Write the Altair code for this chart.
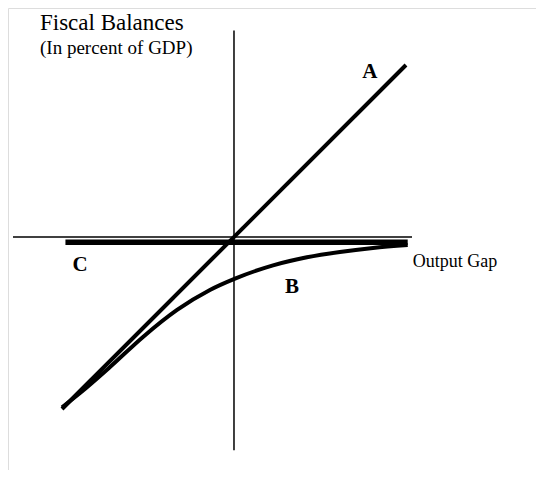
import altair as alt
import pandas as pd

# Stylised units: output gap (x) and fiscal balance (y)
a_x = [-1.0, 1.0]
a_y = [-1.0, 1.0]
b_x = [-1.0, -0.895, -0.721, -0.529, -0.331, -0.14, 0.006, 0.227, 0.424, 0.616, 0.808, 1.01]
b_y = [-0.99, -0.907, -0.756, -0.581, -0.424, -0.308, -0.242, -0.165, -0.118, -0.087, -0.064, -0.047]
c_x = [-0.98, 1.01]
c_y = [-0.03, -0.03]
h_axis_x = [-1.285, 1.035]
v_axis_y = [-1.24, 1.20]

curve_labels = ["A", "B", "C"]
curve_label_x = [0.79, 0.337, -0.895]
curve_label_y = [0.96, -0.29, -0.163]

title_text = ["Fiscal Balances", "(In percent of GDP)"]
title_x = [-1.128, -1.128]
title_y = [1.203, 1.064]
title_size = [23, 19]

xlab_text = ["Output Gap"]
xlab_x = [1.04]
xlab_y = [-0.145]

FONT = "Liberation Serif"

xs = alt.Scale(domain=[-1.314, 1.756], nice=False, zero=False)
ys = alt.Scale(domain=[-1.3547, 1.3314], nice=False, zero=False)

def X(field="x"):
    return alt.X(f"{field}:Q", scale=xs, axis=None)

def Y(field="y"):
    return alt.Y(f"{field}:Q", scale=ys, axis=None)

h_axis = pd.DataFrame({"x": [h_axis_x[0]], "x2": [h_axis_x[1]], "y": [0.0]})
v_axis = pd.DataFrame({"y": [v_axis_y[0]], "y2": [v_axis_y[1]], "x": [0.0]})

haxis = alt.Chart(h_axis).mark_rule(color="black", strokeWidth=1.5).encode(
    x=X(), x2="x2:Q", y=Y())
vaxis = alt.Chart(v_axis).mark_rule(color="black", strokeWidth=1.5).encode(
    y=Y(), y2="y2:Q", x=X())

df_a = pd.DataFrame({"x": a_x, "y": a_y, "o": range(len(a_x))})
df_b = pd.DataFrame({"x": b_x, "y": b_y, "o": range(len(b_x))})
df_c = pd.DataFrame({"x": c_x, "y": c_y, "o": range(len(c_x))})

line_a = alt.Chart(df_a).mark_line(color="black", strokeWidth=4, strokeCap="butt").encode(
    x=X(), y=Y(), order="o:Q")
line_b = alt.Chart(df_b).mark_line(color="black", strokeWidth=4, interpolate="monotone").encode(
    x=X(), y=Y(), order="o:Q")
line_c = alt.Chart(df_c).mark_line(color="black", strokeWidth=5.5).encode(
    x=X(), y=Y(), order="o:Q")

df_cl = pd.DataFrame({"t": curve_labels, "x": curve_label_x, "y": curve_label_y})
clabels = alt.Chart(df_cl).mark_text(font=FONT, fontSize=21, fontWeight="bold",
                                     align="center", baseline="middle", color="black").encode(
    x=X(), y=Y(), text="t:N")

df_t = pd.DataFrame({"t": title_text, "x": title_x, "y": title_y, "s": title_size})
titles = alt.Chart(df_t).mark_text(font=FONT, align="left", baseline="alphabetic",
                                   color="black").encode(
    x=X(), y=Y(), text="t:N", size=alt.Size("s:Q", scale=None, legend=None))

df_x = pd.DataFrame({"t": xlab_text, "x": xlab_x, "y": xlab_y})
xlab = alt.Chart(df_x).mark_text(font=FONT, fontSize=18, align="left", baseline="middle",
                                 color="black").encode(
    x=X(), y=Y(), text="t:N")

chart = alt.layer(haxis, vaxis, line_a, line_b, line_c, clabels, titles, xlab).properties(
    width=528, height=462, padding=0,
    autosize=alt.AutoSizeParams(type="none")
).configure_view(stroke=None).configure(background="white")

chart.save("out.html", embed_options={"renderer": "svg", "actions": False})
